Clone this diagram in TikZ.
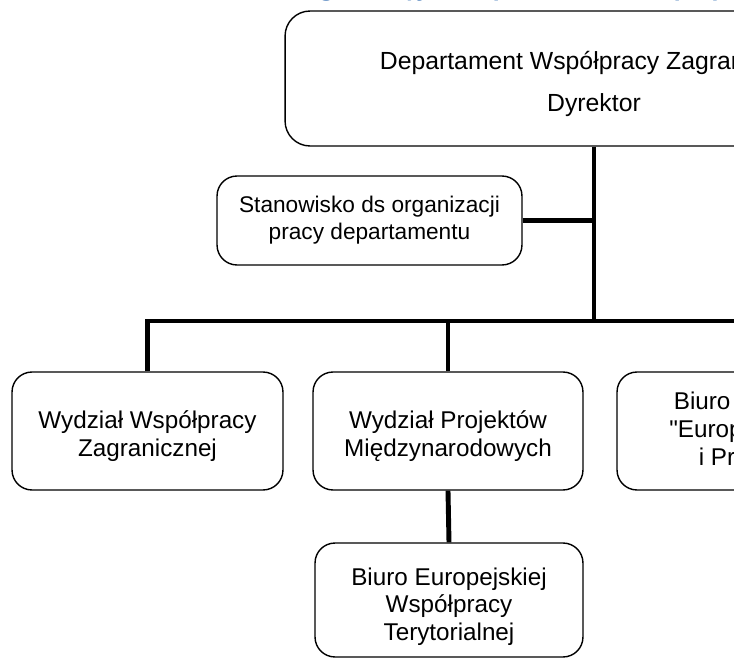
\documentclass[tikz,border=0pt]{standalone}
\usepackage{fontspec}
\setmainfont{Liberation Sans}[Ligatures=TeXOff]
\newfontfamily\headfont{Carlito}
\definecolor{naglowek}{RGB}{79,129,189}
\newcommand\odstep[1]{\rule{0pt}{#1}}

\begin{document}
\begin{tikzpicture}[x=0.02cm, y=-0.02cm,
    box/.style={draw, line width=0.8pt, rounded corners=0.4cm, align=center,
      inner sep=0pt, font=\fontsize{13.8}{15.8}\selectfont},
    link/.style={line width=2.8pt}]
  \useasboundingbox (0,0) rectangle (734,659);

  \node[anchor=base west, text=naglowek, font=\headfont\bfseries\fontsize{16}{19}\selectfont]
    (tytul) at (173,-4) {Struktura organizacyjna Departamentu Współpracy Zagranicznej};

  \node[box, rounded corners=0.5cm, font=\fontsize{14.1}{16.2}\selectfont,
    minimum width=12.36cm, minimum height=2.7cm]
    (dept) at (594,78.5) {\odstep{16.3pt}Departament Współpracy Zagranicznej\\[7.5pt]Dyrektor};

  \node[box, font=\fontsize{12.9}{15.4}\selectfont, minimum width=6.1cm, minimum height=1.78cm]
    (stan) at (369.5,220.5) {Stanowisko ds organizacji\\pracy departamentu};

  \node[box, minimum width=5.42cm, minimum height=2.36cm]
    (wwz) at (147.5,431) {\odstep{15.8pt}Wydział Współpracy\\Zagranicznej};
  \node[box, minimum width=5.4cm, minimum height=2.36cm]
    (wpm) at (448,431) {\odstep{15.8pt}Wydział Projektów\\Międzynarodowych};
  \node[box, minimum width=5.4cm, minimum height=2.36cm]
    (biu) at (752,431) {Biuro Punktów\\"Europe Direct"\\i Promocji};

  \node[box, minimum width=5.36cm, minimum height=2.28cm]
    (bew) at (449,600) {\odstep{17.5pt}Biuro Europejskiej\\Współpracy\\Terytorialnej};

  % linie
  \coordinate (bus) at (594,321);
  \draw[link] (dept.south) -- (bus);
  \draw[link] (stan.east) -- (stan.east -| bus);
  \draw[link] (wwz.north) |- (bus) -| (biu.north);
  \draw[link] (wpm.north) -- (wpm.north |- bus);
  \draw[link] (wpm.south) -- (bew.north);
\end{tikzpicture}
\end{document}
